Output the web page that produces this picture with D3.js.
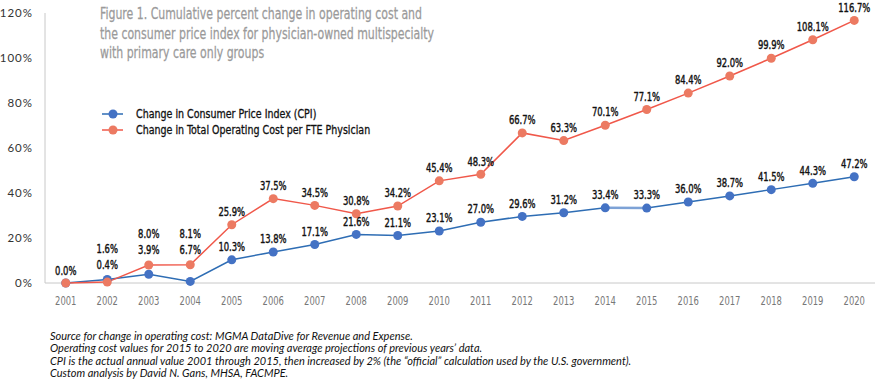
<!DOCTYPE html>
<html>
<head>
<meta charset="utf-8">
<script src="https://cdn.jsdelivr.net/npm/d3@7"></script>
<style>
  body { margin: 0; background: #fff; }
  svg text { font-family: "DejaVu Sans Condensed", "DejaVu Sans", sans-serif; }
  .title { fill: #9a9a9a; font-size: 16px; stroke: #9a9a9a; stroke-width: 0.25px; }
  .ylab { font-family: Lato, sans-serif !important; font-size: 11.5px; fill: #333; letter-spacing: 1px; }
  .xlab { font-size: 12px; fill: #777; }
  .dlab { font-size: 12px; fill: #111; stroke: #111; stroke-width: 0.4px; }
  .leg { font-size: 12px; fill: #111; stroke: #111; stroke-width: 0.3px; }
  .note { font-family: Lato, sans-serif !important; font-style: italic; font-size: 11px; fill: #111; }
</style>
</head>
<body>
<svg width="875" height="386"></svg>
<script>
var years = ["2001","2002","2003","2004","2005","2006","2007","2008","2009","2010",
             "2011","2012","2013","2014","2015","2016","2017","2018","2019","2020"];
var cpi = [0.0, 1.6, 3.9, 0.7, 10.3, 13.8, 17.1, 21.6, 21.1, 23.1,
           27.0, 29.6, 31.2, 33.4, 33.3, 36.0, 38.7, 41.5, 44.3, 47.2];
var cpiLabels = ["0.0%","1.6%","3.9%","6.7%","10.3%","13.8%","17.1%","21.6%","21.1%","23.1%",
                 "27.0%","29.6%","31.2%","33.4%","33.3%","36.0%","38.7%","41.5%","44.3%","47.2%"];
var cost = [0.0, 0.4, 8.0, 8.1, 25.9, 37.5, 34.5, 30.8, 34.2, 45.4,
            48.3, 66.7, 63.3, 70.1, 77.1, 84.4, 92.0, 99.9, 108.1, 116.7];
var costLabels = ["0.0%","0.4%","8.0%","8.1%","25.9%","37.5%","34.5%","30.8%","34.2%","45.4%",
                  "48.3%","66.7%","63.3%","70.1%","77.1%","84.4%","92.0%","99.9%","108.1%","116.7%"];
var yTicks = [0, 20, 40, 60, 80, 100, 120];
var titleLines = ["Figure 1. Cumulative percent change in operating cost and",
                  "the consumer price index for physician-owned multispecialty",
                  "with primary care only groups"];
var legendNames = ["Change in Consumer Price Index (CPI)", "Change in Total Operating Cost per FTE Physician"];
var notes = ["Source for change in operating cost: MGMA DataDive for Revenue and Expense.",
             "Operating cost values for 2015 to 2020 are moving average projections of previous  years\u2019 data.",
             "CPI is the actual annual  value  2001 through 2015, then increased by 2% (the \u201cofficial\u201d calculation used by the U.S. government).",
             "Custom analysis by David N. Gans, MHSA, FACMPE."];

var blue = "#4472c4", blueLine = "#2e6db4", blueLight = "#7da2d6";
var red = "#ec7a62", redLine = "#f0584a";

var svg = d3.select("svg");
var x = d3.scaleBand().domain(years).range([45, 875]);
var y = d3.scaleLinear().domain([0, 120]).range([283, 13]);
var cx = function(d, i) { return x(years[i]) + x.bandwidth() / 2; };

// squeeze text horizontally (the original uses a condensed face)
function squeeze(sx) {
  return function(d) { return "translate(" + d.x + "," + d.y + ") scale(" + sx + ",1)"; };
}

// axes
svg.append("line").attr("x1", 45).attr("x2", 45).attr("y1", 13).attr("y2", 283)
    .attr("stroke", "#c8c8c8");
svg.append("line").attr("x1", 45).attr("x2", 875).attr("y1", 283).attr("y2", 283)
    .attr("stroke", "#c8c8c8");

svg.selectAll(".ylab").data(yTicks).enter().append("text")
    .attr("class", "ylab")
    .attr("x", 33).attr("y", function(d) { return y(d); })
    .attr("dy", "0.35em").attr("text-anchor", "end")
    .text(function(d) { return d + "%"; });

svg.selectAll(".xlab").data(years.map(function(d) { return { x: x(d) + x.bandwidth() / 2, y: 301, t: d }; }))
  .enter().append("text")
    .attr("class", "xlab")
    .attr("transform", squeeze(0.78))
    .attr("dy", "0.35em").attr("text-anchor", "middle")
    .text(function(d) { return d.t; });

// title
svg.selectAll(".title").data(titleLines.map(function(t, i) { return { x: 100, y: 19 + i * 19.5, t: t }; }))
  .enter().append("text")
    .attr("class", "title")
    .attr("transform", squeeze(0.76))
    .text(function(d) { return d.t; });

// lines
var line = d3.line().x(cx).y(function(d) { return y(d); });
svg.append("path").datum(cpi).attr("d", line)
    .attr("fill", "none").attr("stroke", blueLine).attr("stroke-width", 1.5);
// the 2014-2015 CPI segment is drawn lighter and thicker in the original
svg.append("line")
    .attr("x1", cx(null, 13)).attr("y1", y(cpi[13]))
    .attr("x2", cx(null, 14)).attr("y2", y(cpi[14]))
    .attr("stroke", blueLight).attr("stroke-width", 2.5);
svg.append("path").datum(cost).attr("d", line)
    .attr("fill", "none").attr("stroke", redLine).attr("stroke-width", 1.5);

svg.selectAll(".dotb").data(cpi).enter().append("circle")
    .attr("cx", cx).attr("cy", function(d) { return y(d); }).attr("r", 4.5).attr("fill", blue);
svg.selectAll(".dotr").data(cost).enter().append("circle")
    .attr("cx", cx).attr("cy", function(d) { return y(d); }).attr("r", 4.5).attr("fill", red);

// data labels: stacked above the higher point where the two series are close
var labels = [];
years.forEach(function(yr, i) {
  var a = cpi[i], b = cost[i];
  var px = cx(null, i);
  if (a === b) {
    labels.push({ x: px, y: y(a) - 12, t: costLabels[i] });
  } else if (Math.abs(a - b) < 8) {
    var top = Math.max(a, b);
    var hiLab = a > b ? cpiLabels[i] : costLabels[i];
    var loLab = a > b ? costLabels[i] : cpiLabels[i];
    labels.push({ x: px, y: y(top) - 15, t: loLab });
    labels.push({ x: px, y: y(top) - 31, t: hiLab });
  } else {
    labels.push({ x: px, y: y(a) - 13, t: cpiLabels[i] });
    labels.push({ x: px, y: y(b) - 13, t: costLabels[i] });
  }
});
svg.selectAll(".dlab").data(labels).enter().append("text")
    .attr("class", "dlab")
    .attr("transform", squeeze(0.78))
    .attr("dy", "0.35em").attr("text-anchor", "middle")
    .text(function(d) { return d.t; });

// legend
var leg = svg.selectAll(".legg").data(legendNames).enter().append("g")
    .attr("transform", function(d, i) { return "translate(102," + (114 + i * 16) + ")"; });
leg.append("line").attr("x1", 0).attr("x2", 21)
    .attr("stroke", function(d, i) { return i ? redLine : blueLine; }).attr("stroke-width", 1.5);
leg.append("circle").attr("cx", 11).attr("r", 4.5)
    .attr("fill", function(d, i) { return i ? red : blue; });
leg.append("text").attr("class", "leg")
    .attr("transform", "translate(34,0) scale(0.88,1)").attr("dy", "0.35em")
    .text(function(d) { return d; });

// notes
svg.selectAll(".note").data(notes).enter().append("text")
    .attr("class", "note")
    .attr("x", 50).attr("y", function(d, i) { return 336 + i * 12.5; })
    .attr("dy", "0.35em")
    .text(function(d) { return d; });
</script>
</body>
</html>
